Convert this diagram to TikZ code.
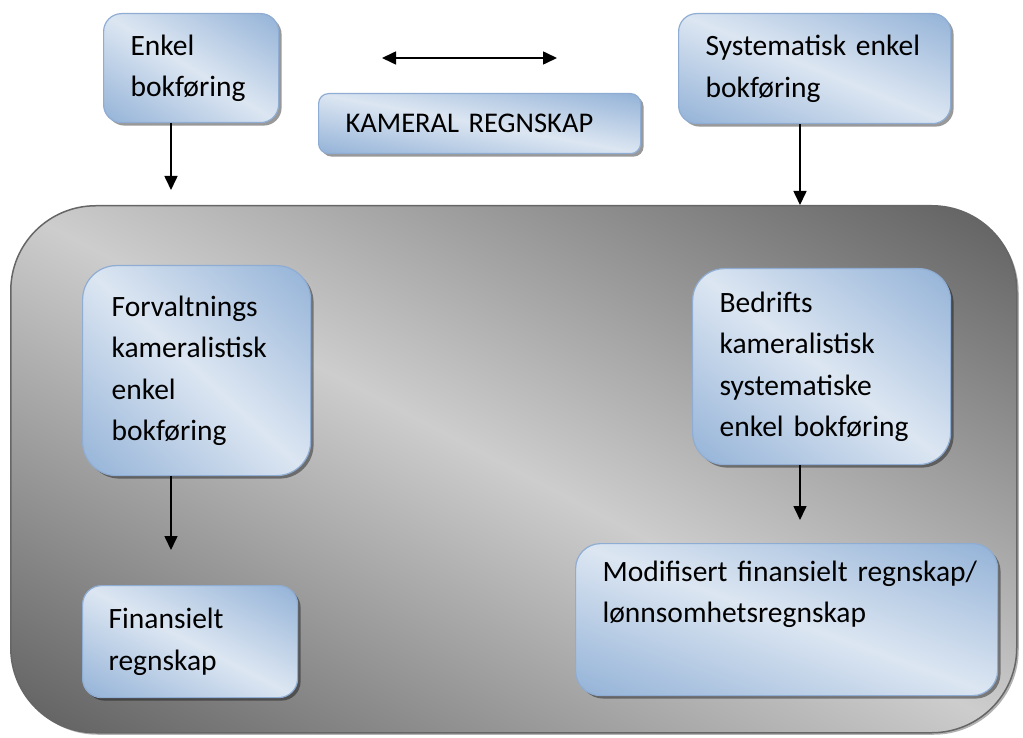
\documentclass[tikz,border=0pt]{standalone}
\usepackage{fontspec}
\setmainfont{Carlito}
\usetikzlibrary{arrows.meta,shadows}
\definecolor{boxblue}{HTML}{93B2D7}
\definecolor{boxlight}{HTML}{DCE6F2}
\definecolor{boxedge}{HTML}{8FADD3}
\definecolor{graydark}{HTML}{5E5E5E}
\definecolor{graylight}{HTML}{CDCDCD}
\pgfdeclareverticalshading{diagblue}{100bp}{color(0bp)=(boxblue); color(50bp)=(boxlight); color(100bp)=(boxblue)}
\pgfdeclareverticalshading{diaggray}{100bp}{color(0bp)=(graydark); color(50bp)=(graylight); color(100bp)=(graydark)}
\newcommand\diagfill[1]{%
  \pgfpointdiff{\pgfpointanchor{path picture bounding box}{south west}}{\pgfpointanchor{path picture bounding box}{north east}}%
  \pgfgetlastxy{\dgw}{\dgh}%
  \pgfmathsetmacro\dgang{atan(\dgh/\dgw)}%
  \pgfmathsetmacro\dgd{0.5*\dgw*sin(\dgang)+0.5*\dgh*cos(\dgang)}%
  \pgfmathsetmacro\dgl{0.5*\dgw+0.5*\dgh+10}%
  \begin{pgfscope}%
    \pgftransformshift{\pgfpointanchor{path picture bounding box}{center}}%
    \pgftransformrotate{-\dgang}%
    \pgftransformxscale{\dgl/50}%
    \pgftransformyscale{\dgd/50}%
    \pgflowlevelsynccm
    \pgfuseshading{#1}%
  \end{pgfscope}}
\tikzset{
  bluebox/.style={draw=boxedge, line width=1.2pt,
    path picture={\diagfill{diagblue}},
    anchor=north west, align=left,
    inner xsep=27pt, inner ysep=0pt,
    font=\fontsize{29.5}{41.5}\selectfont,
    drop shadow={shadow xshift=3pt, shadow yshift=-3pt, fill=black, opacity=0.4}},
  bigbox/.style={draw=black!60, line width=1.5pt,
    path picture={\diagfill{diaggray}},
    anchor=north west, inner sep=0pt,
    drop shadow={shadow xshift=2pt, shadow yshift=-2pt, fill=black, opacity=0.3}},
  arr/.style={line width=1.6pt, -{Triangle[width=13pt,length=14pt]}},
  darr/.style={line width=1.6pt, {Triangle[width=13pt,length=14pt]}-{Triangle[width=13pt,length=14pt]}},
}
\begin{document}
\begin{tikzpicture}[x=1pt, y=-1pt]
\useasboundingbox (0,0) rectangle (1023,738);
% main container
\node[bigbox, minimum width=1006pt, minimum height=527pt, rounded corners=85pt] (main) at (10,205) {};
% top boxes
\node[bluebox, minimum width=175pt, minimum height=109pt, text width=121pt, rounded corners=18pt] (enkel) at (103,13) {Enkel\\bokføring};
\node[bluebox, minimum width=322pt, minimum height=60pt, text width=268pt, rounded corners=10pt, font=\fontsize{28.5}{41.5}\selectfont] (kameral) at (318,93) {KAMERAL REGNSKAP};
\node[bluebox, minimum width=272pt, minimum height=110pt, text width=218pt, rounded corners=18pt] (system) at (678,13) {Systematisk enkel\\bokføring};
% inner boxes
\node[bluebox, minimum width=228pt, minimum height=210pt, text width=170pt, inner xsep=29pt, rounded corners=34pt] (forv) at (82,265) {Forvaltnings\\kameralistisk\\enkel\\bokføring};
\node[bluebox, minimum width=215pt, minimum height=112pt, text width=163pt, inner xsep=26pt, rounded corners=19pt] (fin) at (82,585) {Finansielt\\regnskap};
\node[bluebox, minimum width=258pt, minimum height=196pt, text width=204pt, rounded corners=32pt] (bedr) at (692,268) {Bedrifts\\kameralistisk\\systematiske\\enkel bokføring};
\node[bluebox, minimum width=422pt, minimum height=152pt, text width=368pt, rounded corners=25pt] (modif) at (575,543) {\mbox{Modifisert finansielt regnskap/}\\lønnsomhetsregnskap\\[14pt]\mbox{}};
% connectors
\coordinate (a1) at (171,190);
\coordinate (a2) at (800,205);
\coordinate (a3) at (171,550);
\coordinate (a4) at (800,520);
\coordinate (dl) at (382,58);
\coordinate (dr) at (557,58);
\draw[arr] (enkel.south -| a1) -- (a1);
\draw[arr] (system.south -| a2) -- (a2);
\draw[arr] (forv.south -| a3) -- (a3);
\draw[arr] (bedr.south -| a4) -- (a4);
\draw[darr] (dl) -- (dr);
\end{tikzpicture}
\end{document}
